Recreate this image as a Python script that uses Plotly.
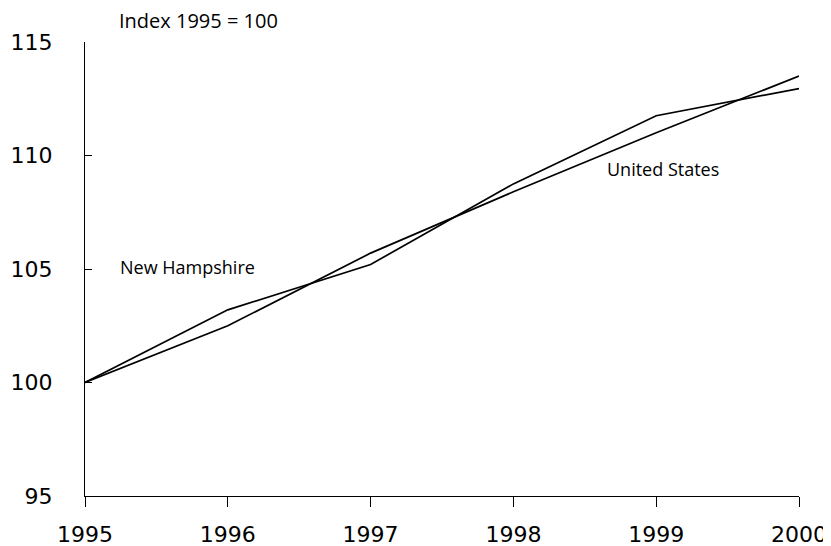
import plotly.graph_objects as go

years = [1995, 1996, 1997, 1998, 1999, 2000]
new_hampshire = [100, 103.2, 105.2, 108.75, 111.75, 112.95]
united_states = [100, 102.5, 105.7, 108.4, 111.0, 113.5]
y_ticks = [95, 100, 105, 110, 115]

text_font = "Open Sans"
tick_font = "DejaVu Sans"

fig = go.Figure()
fig.add_trace(go.Scatter(x=years, y=new_hampshire, mode="lines", name="New Hampshire",
                         line=dict(color="black", width=1.7)))
fig.add_trace(go.Scatter(x=years, y=united_states, mode="lines", name="United States",
                         line=dict(color="black", width=1.7)))

# the page body has an 8px margin, so the figure is offset by 8px
OFF = 8
W, H = 831 - OFF, 546 - OFF
L, T = 85 - OFF, 42 - OFF
R = W - (799 - OFF)
B = H - (496 - OFF)

fig.update_layout(
    width=W, height=H,
    margin=dict(l=L, r=R, t=T, b=B),
    paper_bgcolor="white", plot_bgcolor="white",
    showlegend=False,
    font=dict(family=text_font, color="black"),
    xaxis=dict(range=[1995, 2000], tickvals=years, ticktext=[str(y) for y in years],
               showgrid=False, zeroline=False, showline=True, linecolor="black", linewidth=1,
               ticks="outside", ticklen=10, tickcolor="black", tickwidth=1,
               ticklabelstandoff=9, automargin=False,
               tickfont=dict(size=22, family=tick_font, color="black")),
    yaxis=dict(range=[95, 115], tickvals=y_ticks, showgrid=False, zeroline=False,
               showline=True, linecolor="black", linewidth=1,
               ticks="inside", ticklen=7, tickcolor="black", tickwidth=1,
               ticklabelstandoff=27, automargin=False,
               tickfont=dict(size=22, family=tick_font, color="black")),
    annotations=[
        dict(text="Index 1995 = 100", x=(117 - 85) / (799 - 85), y=1 + (42 - 20.5) / (496 - 42),
             xref="paper", yref="paper", showarrow=False,
             font=dict(size=20, family=text_font), xanchor="left", yanchor="middle"),
        dict(text="New Hampshire", x=1995.23, y=105.1, xref="x", yref="y", showarrow=False,
             font=dict(size=18, family=text_font), xanchor="left", yanchor="middle"),
        dict(text="United States", x=1998.64, y=109.4, xref="x", yref="y", showarrow=False,
             font=dict(size=18, family=text_font), xanchor="left", yanchor="middle"),
    ],
)

fig.write_html("out.html")
